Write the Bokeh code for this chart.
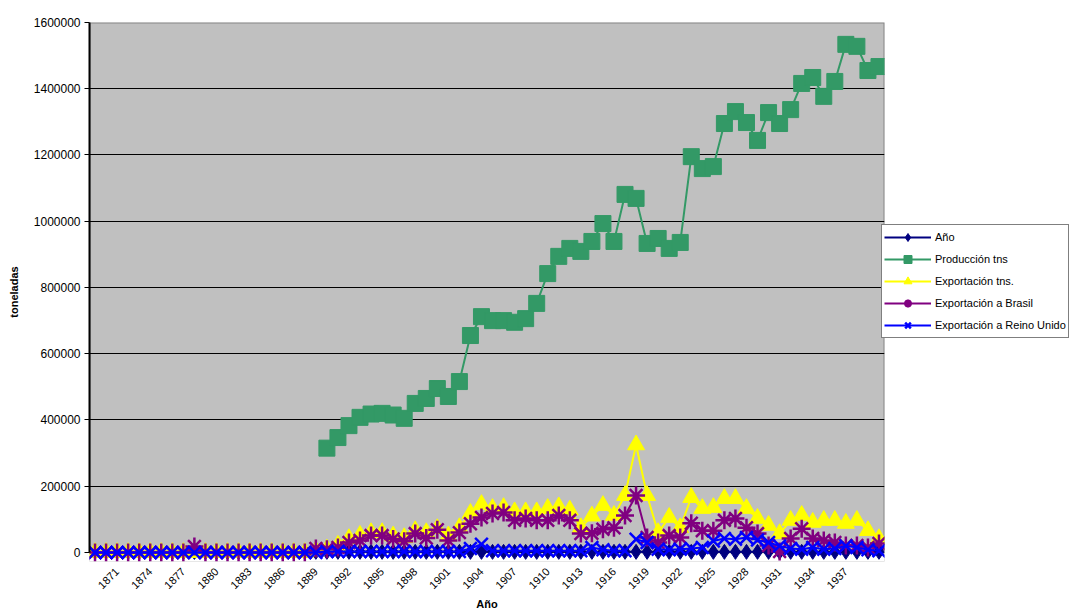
import math
from bokeh.plotting import figure
from bokeh.models import (Range1d, FixedTicker, NumeralTickFormatter, BoxAnnotation,
                          Legend, LegendItem)
from bokeh.embed import file_html
from bokeh.resources import INLINE

NaN = float("nan")

years = list(range(1869, 1941))
anio = list(range(1869, 1941))

produccion = [NaN] * 21 + [
    315000, 347000, 383000, 408000, 418000, 420000, 415000, 405000, 450000, 465000,
    495000, 471000, 516000, 655000, 712000, 700000, 700000, 695000, 706000, 752000,
    842000, 894000, 918000, 909000, 939000, 993000, 939000, 1081000, 1069000, 933000,
    948000, 918000, 936000, 1195000, 1159000, 1165000, 1295000, 1331000, 1298000, 1244000,
    1328000, 1295000, 1337000, 1416000, 1434000, 1377000, 1422000, 1534000, 1528000, 1455000,
    1467000]

exportacion = [0] * 20 + [
    5000, 10000, 22000, 42000, 52000, 60000, 60000, 50000, 45000, 66000,
    60000, 72000, 50000, 75000, 118000, 145000, 133000, 136000, 123000, 123000,
    123000, 133000, 138000, 128000, 75000, 110000, 142000, 112000, 172000, 325000,
    172000, 60000, 106000, 75000, 166000, 133000, 136000, 163000, 163000, 133000,
    103000, 82000, 57000, 97000, 112000, 91000, 97000, 97000, 88000, 97000,
    66000, 42000]

export_brasil = [0] * 9 + [18000] + [0] * 10 + [
    12000, 10000, 15000, 30000, 36000, 51000, 51000, 41000, 34000, 57000,
    44000, 69000, 36000, 60000, 87000, 106000, 118000, 121000, 97000, 103000,
    97000, 97000, 112000, 97000, 57000, 58000, 70000, 75000, 112000, 172000,
    45000, 30000, 51000, 45000, 88000, 66000, 66000, 97000, 103000, 75000,
    57000, 21000, 3000, 42000, 72000, 42000, 36000, 30000, 21000, 21000,
    15000, 27000]

export_ru = [0] * 21 + [
    3000, 3000, 3000, 3000, 3000, 3000, 3000, 3000, 3000, 3000,
    3000, 3000, 3000, 12000, 25000, 5000, 5000, 5000, 5000, 5000,
    5000, 5000, 5000, 5000, 15000, 8000, 5000, 5000, 40000, 30000,
    10000, 8000, 10000, 12000, 15000, 35000, 42000, 40000, 45000, 38000,
    30000, 20000, 12000, 10000, 15000, 10000, 12000, 20000, 15000, 8000,
    5000]

x_ticks = list(range(1871, 1938, 3))
y_ticks = list(range(0, 1600001, 200000))

FONT = "Liberation Sans"

p = figure(frame_width=795, frame_height=539,
           min_border_left=89, min_border_right=193, min_border_top=22, min_border_bottom=51,
           x_range=Range1d(1868.5, 1940.5), y_range=Range1d(-27170, 1600000),
           output_backend="svg", toolbar_location=None)

p.background_fill_color = "#C0C0C0"
p.border_fill_color = "white"
p.outline_line_color = None

# white strip below zero (markers overflow the plot area like in the reference)
p.add_layout(BoxAnnotation(top=0, fill_color="white", fill_alpha=1.0, line_color=None, level="underlay"))

p.xgrid.visible = False
p.ygrid.ticker = FixedTicker(ticks=y_ticks)
p.ygrid.grid_line_color = "black"
p.ygrid.grid_line_width = 1

# plot area border
p.add_layout(BoxAnnotation(bottom=0, top=1600000, fill_alpha=0, line_color="black",
                           line_width=2, level="underlay"))

# y axis
ya = p.yaxis[0]
ya.ticker = FixedTicker(ticks=y_ticks)
ya.formatter = NumeralTickFormatter(format="0")
ya.bounds = (0, 1600000)
ya.axis_line_color = "black"
ya.axis_line_width = 2
ya.major_tick_out = 5
ya.major_tick_in = 0
ya.major_tick_line_color = "black"
ya.minor_tick_line_color = None
ya.major_label_text_font = FONT
ya.major_label_text_font_size = "12px"
ya.major_label_text_color = "black"
ya.major_label_standoff = 4
ya.axis_label = "toneladas"
ya.axis_label_text_font = FONT
ya.axis_label_text_font_size = "11px"
ya.axis_label_text_font_style = "bold"
ya.axis_label_text_color = "black"
ya.axis_label_standoff = 11

# x axis
xa = p.xaxis[0]
xa.ticker = FixedTicker(ticks=x_ticks)
xa.axis_line_color = None
xa.major_tick_line_color = None
xa.minor_tick_line_color = None
xa.major_label_orientation = math.pi / 4
xa.major_label_text_font = FONT
xa.major_label_text_font_size = "11px"
xa.major_label_text_color = "black"
xa.major_label_standoff = 2
xa.axis_label = "Año"
xa.axis_label_text_font = FONT
xa.axis_label_text_font_size = "11px"
xa.axis_label_text_font_style = "bold"
xa.axis_label_text_color = "black"
xa.axis_label_standoff = 3

series = [
    ("Año", anio, "#000080", "diamond", 15, 1),
    ("Producción tns", produccion, "#339966", "square", 16, 1),
    ("Exportación tns.", exportacion, "#FFFF00", "triangle", 17, 1),
    ("Exportación a Brasil", export_brasil, "#800080", "asterisk", 18, 2.5),
    ("Exportación a Reino Unido", export_ru, "#0000FF", "x", 18, 2.5),
]

items = []
for name, vals, color, marker, size, mlw in series:
    ln = p.line(years, vals, line_color=color, line_width=2)
    sc = p.scatter(years, vals, marker=marker, size=size, fill_color=color,
                   line_color=color, line_width=mlw)
    items.append(LegendItem(label=name, renderers=[ln, sc]))

legend = Legend(items=items, location=(-3, 223),
                border_line_color="black", border_line_width=1,
                background_fill_color="white", background_fill_alpha=1.0,
                label_text_font=FONT, label_text_font_size="11px",
                label_text_color="black",
                glyph_width=47, glyph_height=20, label_height=20,
                spacing=2, padding=2, margin=0, label_standoff=4)
p.add_layout(legend, "right")

open("out.html", "w").write(file_html(p, INLINE))
